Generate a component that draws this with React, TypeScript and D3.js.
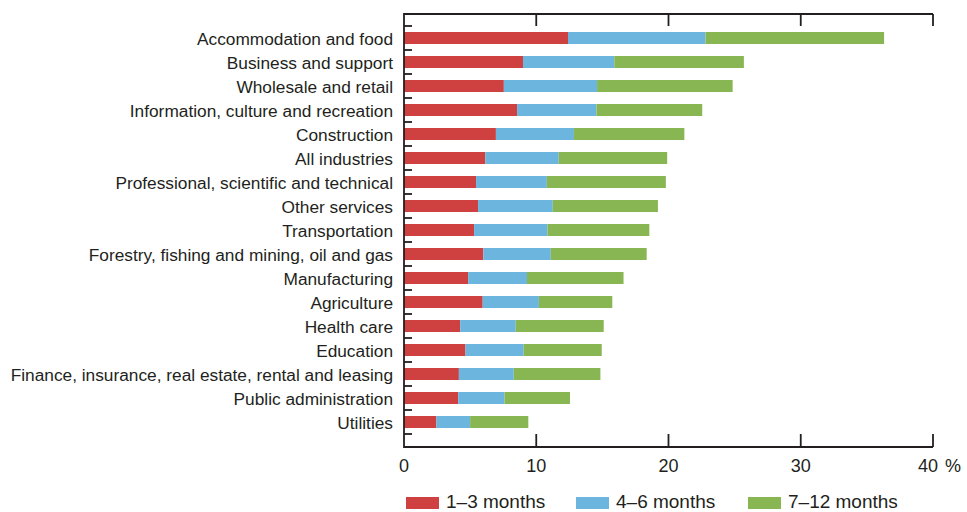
import React from "react";
import * as d3 from "d3";

const categories = [
  "Accommodation and food",
  "Business and support",
  "Wholesale and retail",
  "Information, culture and recreation",
  "Construction",
  "All industries",
  "Professional, scientific and technical",
  "Other services",
  "Transportation",
  "Forestry, fishing and mining, oil and gas",
  "Manufacturing",
  "Agriculture",
  "Health care",
  "Education",
  "Finance, insurance, real estate, rental and leasing",
  "Public administration",
  "Utilities",
];

// segment values (percent)
const months1to3 = [12.4, 9.0, 7.55, 8.55, 6.95, 6.15, 5.45, 5.6, 5.3, 6.0, 4.85, 5.95, 4.25, 4.65, 4.15, 4.1, 2.45];
const months4to6 = [10.4, 6.9, 7.05, 6.0, 5.9, 5.55, 5.35, 5.65, 5.55, 5.1, 4.45, 4.25, 4.2, 4.4, 4.15, 3.5, 2.55];
const months7to12 = [13.5, 9.8, 10.25, 8.0, 8.35, 8.2, 9.0, 7.95, 7.7, 7.25, 7.3, 5.55, 6.65, 5.9, 6.55, 4.95, 4.4];

const seriesNames = ["1\u20133 months", "4\u20136 months", "7\u201312 months"];
const seriesColors = ["#cf4140", "#6cb5de", "#88b652"];
const xTicks = [0, 10, 20, 30, 40];

const W = 967;
const H = 512;
const ink = "#231f20";
const font = "'Liberation Sans', Arial, sans-serif";

export default function App() {
  const x = d3.scaleLinear().domain([0, 40]).range([404, 933]);
  const y = d3
    .scaleBand<string>()
    .domain(categories)
    .range([26, 434])
    .paddingInner(0.5)
    .paddingOuter(0.25);

  const rows = categories.map((c, i) => ({
    cat: c,
    a: months1to3[i],
    b: months4to6[i],
    c: months7to12[i],
  }));
  const stack = d3.stack<any>().keys(["a", "b", "c"]);
  const layers = stack(rows);

  const step = y.step();
  const bandTicks = d3.range(categories.length + 1).map((i) => 26 + i * step);

  const top = 14;
  const bottom = 447;

  const legendX = [406, 576, 748];

  return (
    <svg
      width={W}
      height={H}
      style={{ position: "absolute", left: 0, top: 0, background: "#fff" }}
      fontFamily={font}
    >
      {layers.map((layer, li) => (
        <g key={li} fill={seriesColors[li]}>
          {layer.map((d, i) => (
            <rect
              key={i}
              x={x(d[0])}
              y={y(categories[i])}
              width={x(d[1]) - x(d[0])}
              height={y.bandwidth()}
            />
          ))}
        </g>
      ))}

      {/* axes frame */}
      <g stroke={ink} strokeWidth={1.8} fill="none">
        <line x1={x(0)} x2={x(40)} y1={top} y2={top} />
        <line x1={x(0)} x2={x(40)} y1={bottom} y2={bottom} />
        <line x1={x(0)} x2={x(0)} y1={top - 0.9} y2={bottom + 0.9} />
        {xTicks.slice(1).map((t) => (
          <line key={"tt" + t} x1={x(t)} x2={x(t)} y1={top} y2={top + 12} />
        ))}
        {xTicks.slice(1).map((t) => (
          <line key={"bt" + t} x1={x(t)} x2={x(t)} y1={bottom} y2={bottom - 13} />
        ))}
        {bandTicks.map((v, i) => (
          <line key={"yt" + i} x1={x(0)} x2={x(0) + 8} y1={v} y2={v} />
        ))}
      </g>

      {/* category labels */}
      <g fill={ink} fontSize={17.3} textAnchor="end">
        {categories.map((c) => (
          <text key={c} x={393} y={(y(c) as number) + y.bandwidth() / 2 + 6.5}>
            {c}
          </text>
        ))}
      </g>

      {/* x tick labels */}
      <g fill={ink} fontSize={18} textAnchor="middle">
        {xTicks.map((t) => (
          <text key={t} x={t === 40 ? x(t) - 5 : x(t)} y={472}>
            {t}
          </text>
        ))}
        <text x={945} y={472} textAnchor="start">
          %
        </text>
      </g>

      {/* legend */}
      <g fontSize={19} fill={ink}>
        {seriesNames.map((n, i) => (
          <g key={n}>
            <rect x={legendX[i]} y={497} width={33} height={12} fill={seriesColors[i]} />
            <text x={legendX[i] + 40} y={508}>
              {n}
            </text>
          </g>
        ))}
      </g>
    </svg>
  );
}
